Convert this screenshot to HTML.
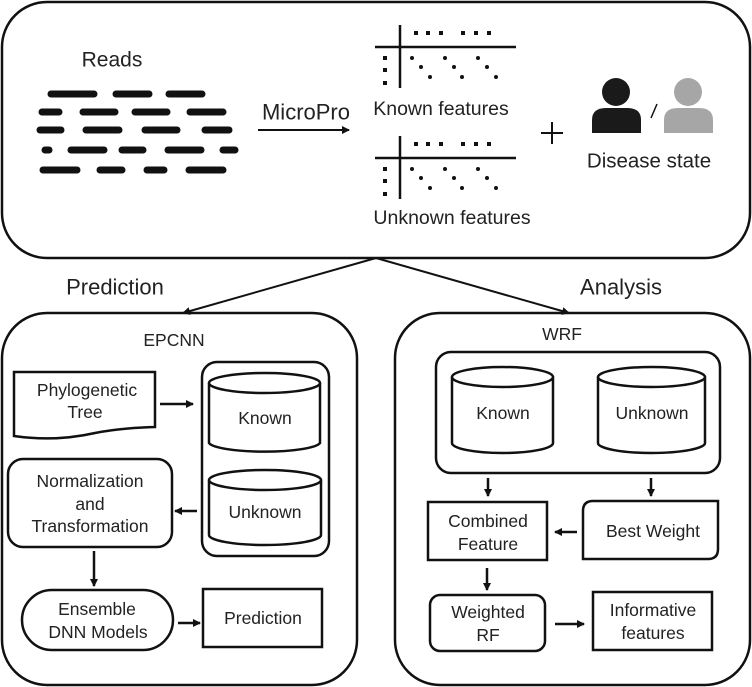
<!DOCTYPE html>
<html><head><meta charset="utf-8"><style>
html,body{margin:0;padding:0;background:#fff}
svg{display:block}
text{font-family:"Liberation Sans",sans-serif;fill:#222;text-anchor:middle;dominant-baseline:central}
</style></head><body>
<svg width="752" height="687" viewBox="0 0 752 687" xmlns="http://www.w3.org/2000/svg">
<defs>
<marker id="a" markerWidth="8" markerHeight="8" refX="7" refY="4" orient="auto" markerUnits="userSpaceOnUse"><path d="M0,0 L8,4 L0,8 z" fill="#111"/></marker>
</defs>
<g fill="none" stroke="#111" stroke-width="2.5">
<rect x="2" y="2" width="748" height="256" rx="45"/>
<rect x="2" y="313" width="355" height="372" rx="45"/>
<rect x="395" y="313" width="355" height="372" rx="45"/>
</g>
<text x="112" y="60" font-size="21">Reads</text>
<g stroke="#111" stroke-width="7" stroke-linecap="round">
<path d="M51 94H94M116 94H149M169 94H202"/>
<path d="M42 112H59M83 112H115M135 112H167M190 112H223"/>
<path d="M40 130H61M86 130H119M145 130H177M205 130H229"/>
<path d="M45 150H49M71 150H104M122 150H143M168 150H201M223 150H235"/>
<path d="M43 170H77M100 170H122M147 170H164M189 170H223"/>
</g>
<text x="306" y="112" font-size="22">MicroPro</text>
<line x1="258" y1="130" x2="349" y2="130" stroke="#111" stroke-width="2" marker-end="url(#a)"/>
<g id="plot">
<line x1="400" y1="25" x2="400" y2="88" stroke="#111" stroke-width="2.5"/>
<line x1="375" y1="47" x2="516" y2="47" stroke="#111" stroke-width="2.5"/>
<g fill="#111">
<rect x="414" y="31" width="4" height="4"/><rect x="426" y="31" width="4" height="4"/><rect x="439" y="31" width="4" height="4"/>
<rect x="461" y="31" width="4" height="4"/><rect x="474" y="31" width="4" height="4"/><rect x="487" y="31" width="4" height="4"/>
<rect x="383" y="56" width="4" height="4"/><rect x="383" y="68" width="4" height="4"/><rect x="383" y="81" width="4" height="4"/>
<circle cx="412" cy="58" r="2"/><circle cx="421" cy="67" r="2"/><circle cx="430" cy="77" r="2"/>
<circle cx="445" cy="58" r="2"/><circle cx="454" cy="67" r="2"/><circle cx="462" cy="77" r="2"/>
<circle cx="478" cy="58" r="2"/><circle cx="487" cy="67" r="2"/><circle cx="496" cy="77" r="2"/>
</g>
</g>
<use href="#plot" y="111"/>
<text x="441" y="109" font-size="19.5">Known features</text>
<text x="452" y="218" font-size="19.5">Unknown features</text>
<path d="M552 122V144M541 133H563" stroke="#111" stroke-width="2"/>
<circle cx="616" cy="92" r="14" fill="#1a1a1a"/>
<path d="M592 133V120Q592 108 606 108H627Q641 108 641 120V133Z" fill="#1a1a1a"/>
<circle cx="688" cy="92" r="14" fill="#a6a6a6"/>
<path d="M664 133V120Q664 108 678 108H699Q713 108 713 120V133Z" fill="#a6a6a6"/>
<line x1="657" y1="104" x2="651" y2="118" stroke="#111" stroke-width="1.5"/>
<text x="649" y="161" font-size="20.5">Disease state</text>
<line x1="376" y1="258" x2="183" y2="313" stroke="#111" stroke-width="2" marker-end="url(#a)"/>
<line x1="376" y1="258" x2="569" y2="313" stroke="#111" stroke-width="2" marker-end="url(#a)"/>
<text x="115" y="287" font-size="22">Prediction</text>
<text x="621" y="287" font-size="22">Analysis</text>
<!-- left -->
<text x="174" y="340" font-size="17.5">EPCNN</text>
<g fill="none" stroke="#111" stroke-width="2.5">
<path d="M14 372H155V427Q120 428 95 433Q55 442 14 436Z"/>
<rect x="202" y="362" width="127" height="194" rx="15"/>
<path d="M209 383V443A56 10 0 0 0 320 443V383"/><ellipse cx="264.5" cy="383" rx="55.5" ry="10"/>
<path d="M209 480V535A56 10 0 0 0 321 535V480"/><ellipse cx="265" cy="480" rx="56" ry="10"/>
<rect x="8" y="459" width="164" height="88" rx="15"/>
<rect x="22" y="590" width="151" height="60" rx="30"/>
<rect x="203" y="589" width="119" height="58"/>
</g>
<g font-size="17.5">
<text x="87" y="390">Phylogenetic</text><text x="85" y="412">Tree</text>
<text x="265" y="418">Known</text><text x="265" y="512">Unknown</text>
<text x="90" y="481">Normalization</text><text x="90" y="504">and</text><text x="90" y="526">Transformation</text>
<text x="97" y="609">Ensemble</text><text x="98" y="632">DNN Models</text>
<text x="263" y="618">Prediction</text>
</g>
<g stroke="#111" stroke-width="2.5" marker-end="url(#a)">
<line x1="160" y1="404" x2="193" y2="404"/>
<line x1="197" y1="511" x2="175" y2="511"/>
<line x1="94" y1="551" x2="94" y2="586"/>
<line x1="178" y1="623" x2="200" y2="623"/>
</g>
<!-- right -->
<text x="562" y="334" font-size="17.5">WRF</text>
<g fill="none" stroke="#111" stroke-width="2.5">
<rect x="436" y="352" width="284" height="121" rx="15"/>
<path d="M452 377V443A50.5 10 0 0 0 553 443V377"/><ellipse cx="502.5" cy="377" rx="50.5" ry="10"/>
<path d="M598 377V443A53.5 10 0 0 0 705 443V377"/><ellipse cx="651.5" cy="377" rx="53.5" ry="10"/>
<rect x="428" y="502" width="119" height="58"/>
<path d="M593 501H718V549Q718 559 708 559H583V511Q583 501 593 501Z"/>
<rect x="430" y="595" width="115" height="56" rx="10"/>
<rect x="593" y="592" width="119" height="58"/>
</g>
<g font-size="17.5">
<text x="503" y="413">Known</text><text x="652" y="413">Unknown</text>
<text x="488" y="521">Combined</text><text x="488" y="544">Feature</text>
<text x="653" y="531">Best Weight</text>
<text x="488" y="612">Weighted</text><text x="488" y="635">RF</text>
<text x="653" y="610">Informative</text><text x="653" y="633">features</text>
</g>
<g stroke="#111" stroke-width="2.5" marker-end="url(#a)">
<line x1="488" y1="478" x2="488" y2="496"/>
<line x1="651" y1="478" x2="651" y2="496"/>
<line x1="577" y1="532" x2="555" y2="532"/>
<line x1="487" y1="568" x2="487" y2="590"/>
<line x1="555" y1="624" x2="584" y2="624"/>
</g>
</svg>
</body></html>
